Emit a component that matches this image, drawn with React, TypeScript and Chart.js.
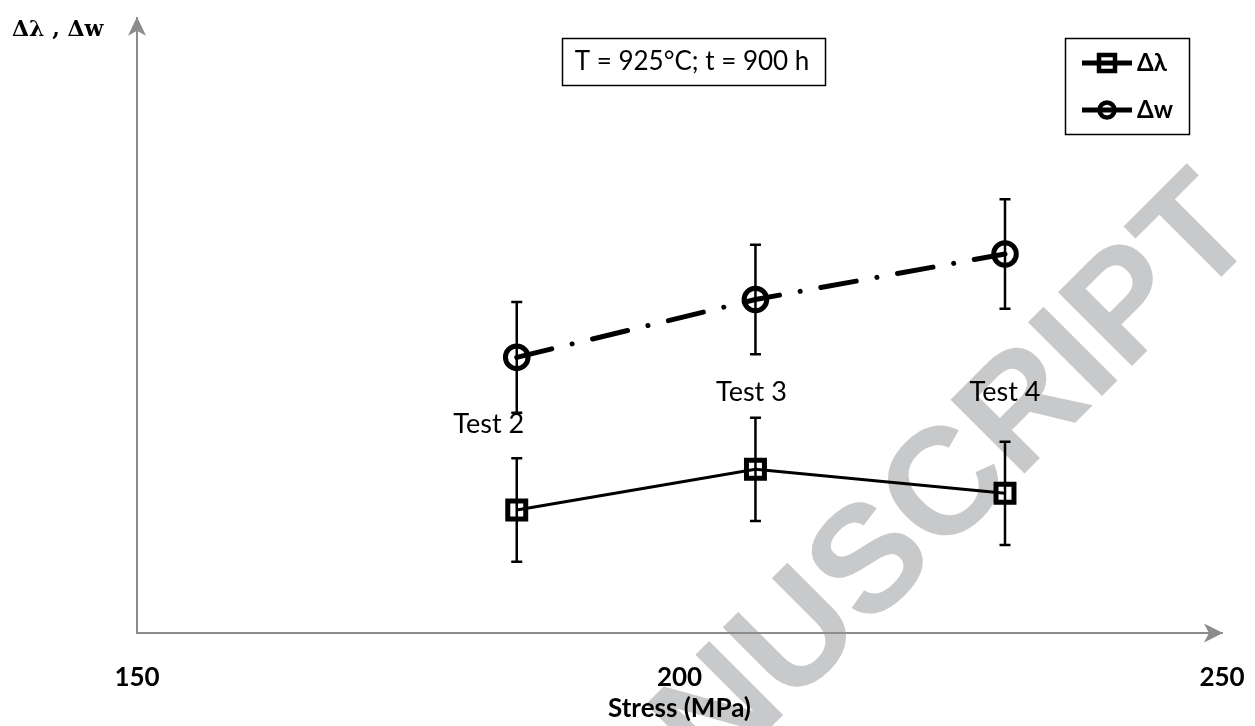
import React, { useEffect, useRef } from "react";
import { Chart, registerables } from "chart.js";

Chart.register(...registerables);

// Stress levels of the three creep tests (MPa)
const stress = [185, 207, 230];
// Δλ series with its error half-widths (arbitrary units)
const deltaLambda = [20.0, 26.6, 22.7];
const deltaLambdaErr = [8.4, 8.4, 8.4];
// Δw series with its error half-widths (arbitrary units)
const deltaW = [44.8, 54.2, 61.6];
const deltaWErr = [9.0, 8.9, 8.9];

const testLabels = ["Test 2", "Test 3", "Test 4"];
const xTicks = [150, 200, 250];
const seriesNames = ["Δλ", "Δw"];
const conditionText = "T = 925°C; t = 900 h";
const xTitle = "Stress (MPa)";
const yTitle = "Δλ , Δw";
const watermarkText = "ACCEPTED MANUSCRIPT";

const FONT = "Lato, 'Open Sans', sans-serif";
const AXIS_GREY = "#8c8c8c";

// Large grey stamp behind everything else, laid along a 45° diagonal
const watermarkPlugin = {
  id: "watermark",
  beforeDraw(chart: any) {
    const ctx = chart.ctx;
    ctx.save();
    ctx.translate(1262, 236);
    ctx.rotate(-Math.PI / 4);
    ctx.font = "bold 152px 'Liberation Sans', Arial, sans-serif";
    ctx.fillStyle = "#c8c9cb";
    ctx.textAlign = "right";
    ctx.textBaseline = "alphabetic";
    ctx.fillText(watermarkText, 0, 0);
    ctx.restore();
  },
};

// Error bars, test labels, arrowheads, condition box and legend
const overlayPlugin = {
  id: "overlay",
  afterDatasetsDraw(chart: any) {
    const ctx = chart.ctx;
    const xs = chart.scales.x;
    const ys = chart.scales.y;

    // error bars
    const drawErr = (vals: number[], errs: number[]) => {
      ctx.save();
      ctx.strokeStyle = "#000";
      ctx.lineWidth = 2.5;
      vals.forEach((v, i) => {
        const px = xs.getPixelForValue(stress[i]);
        const top = ys.getPixelForValue(v + errs[i]);
        const bot = ys.getPixelForValue(v - errs[i]);
        ctx.beginPath();
        ctx.moveTo(px, top);
        ctx.lineTo(px, bot);
        ctx.moveTo(px - 5.5, top);
        ctx.lineTo(px + 5.5, top);
        ctx.moveTo(px - 5.5, bot);
        ctx.lineTo(px + 5.5, bot);
        ctx.stroke();
      });
      ctx.restore();
    };
    drawErr(deltaLambda, deltaLambdaErr);
    drawErr(deltaW, deltaWErr);

    // test labels placed above the Δλ points
    const offsets = [
      [-28, -86],
      [-4, -77],
      [0, -101],
    ];
    ctx.save();
    ctx.fillStyle = "#000";
    ctx.font = `27px ${FONT}`;
    ctx.textAlign = "center";
    ctx.textBaseline = "middle";
    testLabels.forEach((t, i) => {
      const px = xs.getPixelForValue(stress[i]);
      const py = ys.getPixelForValue(deltaLambda[i]);
      ctx.fillText(t, px + offsets[i][0], py + offsets[i][1]);
    });
    ctx.restore();
  },
  afterDraw(chart: any) {
    const ctx = chart.ctx;
    const area = chart.chartArea;

    // axis arrowheads
    ctx.save();
    ctx.fillStyle = AXIS_GREY;
    const yTipX = area.left;
    const yTipY = area.top - 1;
    ctx.beginPath();
    ctx.moveTo(yTipX, yTipY);
    ctx.lineTo(yTipX - 9, yTipY + 19);
    ctx.lineTo(yTipX, yTipY + 14);
    ctx.lineTo(yTipX + 9, yTipY + 19);
    ctx.closePath();
    ctx.fill();
    const xTipX = area.right + 1;
    const xTipY = area.bottom;
    ctx.beginPath();
    ctx.moveTo(xTipX, xTipY);
    ctx.lineTo(xTipX - 19, xTipY - 9.5);
    ctx.lineTo(xTipX - 14, xTipY);
    ctx.lineTo(xTipX - 19, xTipY + 9.5);
    ctx.closePath();
    ctx.fill();
    ctx.restore();

    // y-axis title
    ctx.save();
    ctx.fillStyle = "#000";
    ctx.font = "bold 22px 'DejaVu Serif', serif";
    ctx.textAlign = "left";
    ctx.textBaseline = "middle";
    ctx.fillText(yTitle, 12, 30);
    ctx.restore();

    // test condition box
    ctx.save();
    ctx.strokeStyle = "#000";
    ctx.lineWidth = 1.5;
    ctx.strokeRect(562.5, 38.5, 263, 47);
    ctx.fillStyle = "#000";
    ctx.font = `26px ${FONT}`;
    ctx.textAlign = "center";
    ctx.textBaseline = "middle";
    ctx.fillText(conditionText, 692, 62);
    ctx.restore();

    // legend
    ctx.save();
    ctx.strokeStyle = "#000";
    ctx.lineWidth = 1.5;
    ctx.strokeRect(1065.5, 38.5, 124, 96);
    const rows = [63, 110];
    rows.forEach((ry, i) => {
      ctx.strokeStyle = "#000";
      ctx.lineWidth = 5;
      ctx.beginPath();
      ctx.moveTo(1082, ry);
      ctx.lineTo(1132, ry);
      ctx.stroke();
      ctx.lineWidth = 4.5;
      ctx.fillStyle = "#fff";
      ctx.beginPath();
      if (i === 0) {
        ctx.rect(1099, ry - 8, 16, 16);
      } else {
        ctx.arc(1107, ry, 7.5, 0, Math.PI * 2);
      }
      ctx.stroke();
      ctx.beginPath();
      ctx.moveTo(1102, ry);
      ctx.lineTo(1112, ry);
      ctx.lineWidth = 3;
      ctx.stroke();
      ctx.fillStyle = "#000";
      ctx.font = `bold 24px ${FONT}`;
      ctx.textAlign = "left";
      ctx.textBaseline = "middle";
      ctx.fillText(seriesNames[i], 1137, ry);
    });
    ctx.restore();
  },
};

export default function App() {
  const canvasRef = useRef<HTMLCanvasElement | null>(null);

  useEffect(() => {
    if (!canvasRef.current) return;
    const chart = new Chart(canvasRef.current, {
      type: "line",
      data: {
        datasets: [
          {
            label: seriesNames[0],
            data: stress.map((x, i) => ({ x, y: deltaLambda[i] })),
            borderColor: "#000",
            borderWidth: 3,
            pointStyle: "rect",
            pointRadius: 12.7,
            pointBorderWidth: 5,
            pointBorderColor: "#000",
            pointBackgroundColor: "rgba(0,0,0,0)",
            tension: 0,
            fill: false,
            clip: false as any,
          },
          {
            label: seriesNames[1],
            data: stress.map((x, i) => ({ x, y: deltaW[i] })),
            borderColor: "#000",
            borderWidth: 5,
            borderDash: [36, 21, 0.01, 21],
            borderCapStyle: "round",
            pointStyle: "circle",
            pointRadius: 11.3,
            pointBorderWidth: 5,
            pointBorderColor: "#000",
            pointBackgroundColor: "rgba(0,0,0,0)",
            tension: 0,
            fill: false,
            clip: false as any,
          },
        ],
      },
      options: {
        animation: false,
        responsive: false,
        maintainAspectRatio: false,
        events: [],
        layout: { padding: { left: 137, right: 33, top: 8, bottom: 0 } },
        plugins: {
          legend: { display: false },
          tooltip: { enabled: false },
        },
        scales: {
          x: {
            type: "linear",
            min: 150,
            max: 250,
            afterBuildTicks: (s: any) => {
              s.ticks = xTicks.map((v) => ({ value: v }));
            },
            afterFit: (s: any) => {
              s.height = 93;
            },
            // invisible tick marks push the labels down without widening the side padding
            grid: { display: false, drawTicks: true, tickLength: 29 },
            border: { color: AXIS_GREY, width: 2 },
            ticks: {
              padding: 0,
              color: "#000",
              maxRotation: 0,
              font: { family: FONT, size: 26, weight: "bold" },
            },
            title: {
              display: true,
              text: xTitle,
              color: "#000",
              font: { family: FONT, size: 26, weight: "bold" },
              padding: { top: 0, bottom: 2 },
            },
          },
          y: {
            type: "linear",
            min: 0,
            max: 100,
            afterFit: (s: any) => {
              s.width = 0;
            },
            grid: { display: false, drawTicks: false },
            border: { color: AXIS_GREY, width: 2 },
            ticks: { display: false },
          },
        },
      },
      plugins: [watermarkPlugin, overlayPlugin],
    });
    return () => chart.destroy();
  }, []);

  return (
    <div style={{ position: "fixed", left: 0, top: 0, width: 1255, height: 726, background: "#fff" }}>
      <canvas ref={canvasRef} width={1255} height={726} />
    </div>
  );
}
